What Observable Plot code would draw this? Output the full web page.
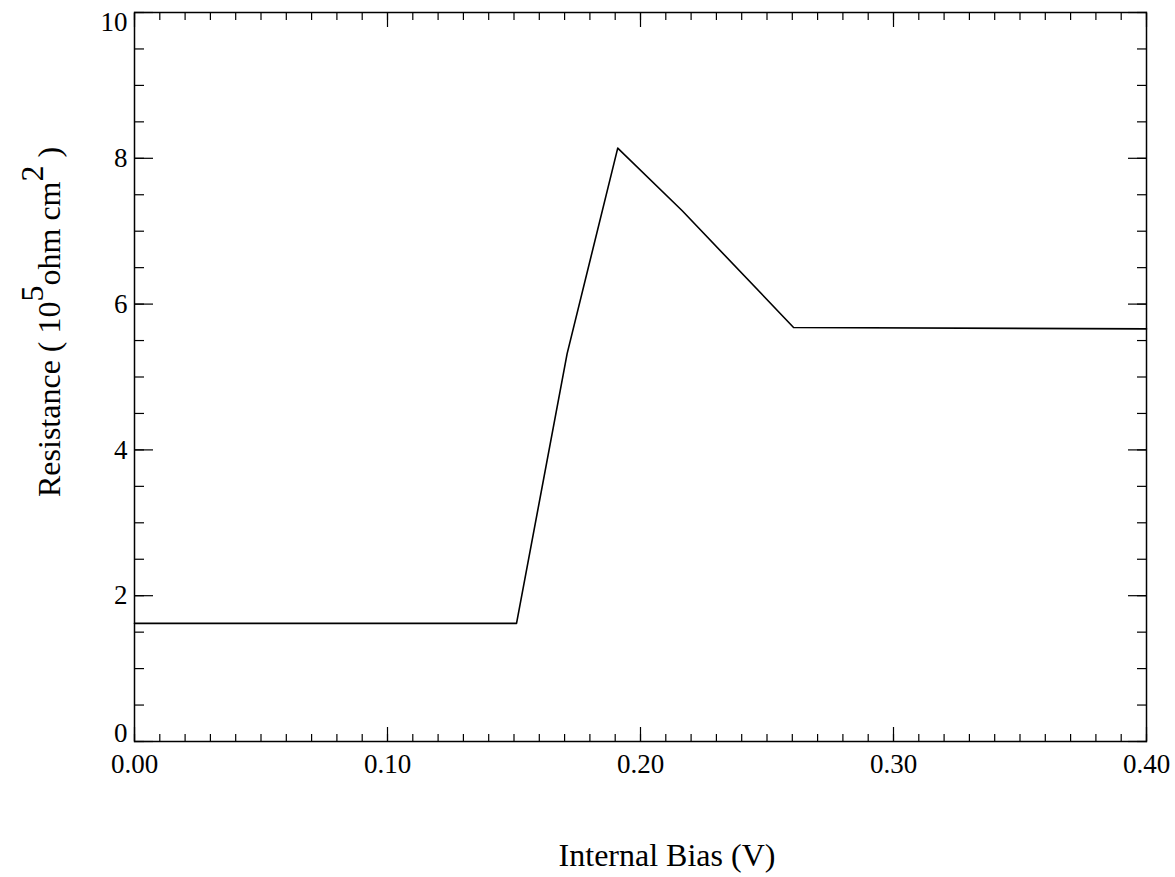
<!DOCTYPE html>
<html>
<head>
<meta charset="utf-8">
<script src="https://cdn.jsdelivr.net/npm/d3@7"></script>
<script src="https://cdn.jsdelivr.net/npm/@observablehq/plot@0.6"></script>
<style>
  html, body { margin: 0; padding: 0; background: #fff; }
  #chart svg { display: block; }
  #chart svg text { font-size: 27px; font-family: 'Liberation Serif', 'DejaVu Serif', serif; }
</style>
</head>
<body>
<div id="chart"></div>
<script>
// Data
const bias = [0.000, 0.151, 0.171, 0.191, 0.2165, 0.2605, 0.400];
const resistance = [1.62, 1.62, 5.32, 8.14, 7.28, 5.68, 5.66];

// Axis ticks
const xMajorTicks = [0.0, 0.1, 0.2, 0.3, 0.4];
const xMinorTicks = d3.range(0, 41).map(i => i / 100);
const yMajorTicks = [0, 2, 4, 6, 8, 10];
const yInnerLabels = [2, 4, 6, 8];
const yTopLabel = [10];
const yBottomLabel = [0];
const yMinorTicks = d3.range(0, 21).map(i => i / 2);

const xTitle = "Internal Bias (V)";
const yTitleParts = ["Resistance ( 10", "5", "ohm cm", "2", " )"];

const data = bias.map((x, i) => ({x, y: resistance[i]}));

const plot = Plot.plot({
  width: 1175,
  height: 877,
  marginLeft: 134,
  marginRight: 29,
  marginTop: 12,
  marginBottom: 136,
  style: {
    fontFamily: "'Liberation Serif', 'DejaVu Serif', serif",
    fontSize: "27px",
    color: "#000",
    background: "#fff"
  },
  x: {domain: [0, 0.4]},
  y: {domain: [0, 10]},
  marks: [
    // minor/major ticks pointing inward on all four sides
    Plot.axisX(xMinorTicks, {anchor: "bottom", tickSize: -7, text: null, label: null, strokeWidth: 1.2}),
    Plot.axisX(xMajorTicks, {anchor: "bottom", tickSize: -14, text: null, label: null, strokeWidth: 1.2}),
    Plot.axisX(xMinorTicks, {anchor: "top", tickSize: -7, text: null, label: null, strokeWidth: 1.2}),
    Plot.axisX(xMajorTicks, {anchor: "top", tickSize: -14, text: null, label: null, strokeWidth: 1.2}),
    Plot.axisY(yMinorTicks, {anchor: "left", tickSize: -10, text: null, label: null, strokeWidth: 1.2}),
    Plot.axisY(yMajorTicks, {anchor: "left", tickSize: -19, text: null, label: null, strokeWidth: 1.2}),
    Plot.axisY(yMinorTicks, {anchor: "right", tickSize: -10, text: null, label: null, strokeWidth: 1.2}),
    Plot.axisY(yMajorTicks, {anchor: "right", tickSize: -19, text: null, label: null, strokeWidth: 1.2}),
    // tick labels
    Plot.axisX(xMajorTicks, {anchor: "bottom", tickSize: 0, tickPadding: 12, tickFormat: d3.format(".2f"), label: null}),
    Plot.axisY(yInnerLabels, {anchor: "left", tickSize: 0, tickPadding: 7, tickFormat: d3.format("d"), label: null}),
    Plot.axisY(yTopLabel, {anchor: "left", tickSize: 0, tickPadding: 7, tickFormat: d3.format("d"), label: null, dy: 10}),
    Plot.axisY(yBottomLabel, {anchor: "left", tickSize: 0, tickPadding: 7, tickFormat: d3.format("d"), label: null, dy: -8}),
    Plot.frame({stroke: "#000", strokeWidth: 1.5}),
    Plot.line(data, {x: "x", y: "y", stroke: "#000", strokeWidth: 1.6})
  ]
});

document.getElementById("chart").appendChild(plot);

const svg = d3.select(plot);

svg.append("text")
  .attr("x", 667)
  .attr("y", 866)
  .attr("text-anchor", "middle")
  .attr("fill", "#000")
  .style("font-size", "32px")
  .text(xTitle);

const yt = svg.append("text")
  .attr("transform", "translate(60,497) rotate(-90)")
  .attr("text-anchor", "start")
  .attr("fill", "#000")
  .style("font-size", "32px")
  .style("white-space", "pre");
const shifts = [0, -17, 17, -17, 17];
yTitleParts.forEach((t, i) => {
  yt.append("tspan").attr("dy", shifts[i]).text(t);
});
</script>
</body>
</html>
